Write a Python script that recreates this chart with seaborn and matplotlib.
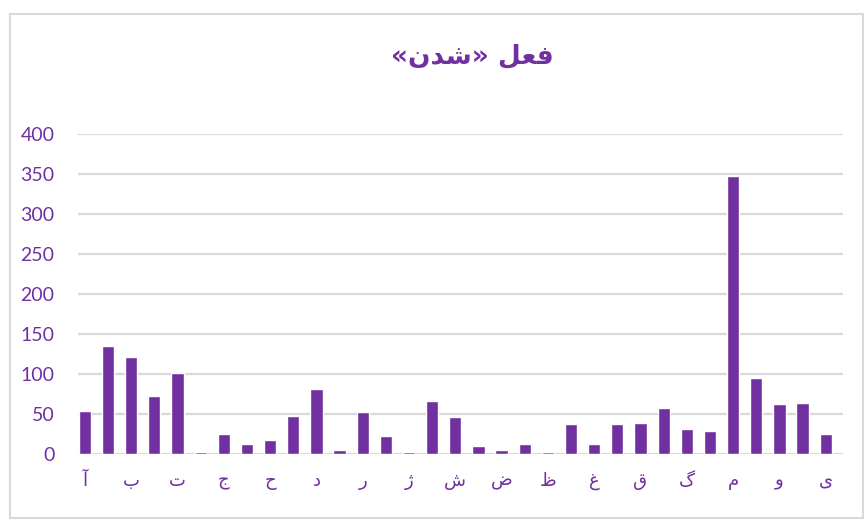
import numpy as np
import pandas as pd
import matplotlib
matplotlib.use("Agg")
import matplotlib.pyplot as plt
import seaborn as sns
from matplotlib.patches import Rectangle

# Persian alphabet, one bar per letter
letters = ["آ", "ا", "ب", "پ", "ت", "ث", "ج", "چ", "ح", "خ", "د", "ذ", "ر", "ز", "ژ",
           "س", "ش", "ص", "ض", "ط", "ظ", "ع", "غ", "ف", "ق", "ک", "گ", "ل", "م", "ن",
           "و", "ه", "ی"]
counts = [54, 135, 121, 73, 101, 2, 25, 12, 18, 48, 81, 5, 52, 23, 3,
          66, 46, 10, 5, 12, 2, 38, 12, 37, 39, 57, 31, 29, 348, 95,
          62, 64, 25]
yticks = [0, 50, 100, 150, 200, 250, 300, 350, 400]
# title in visual order with presentation forms (matplotlib has no bidi shaping)
title = "«\uFEE5\uFEAA\uFEB7» \uFEDE\uFECC\uFED3"

purple = "#7030A0"
grid_gray = "#D9D9D9"

df = pd.DataFrame({"letter": letters, "count": counts})

sns.set_style("white")
plt.rcParams['font.family'] = ['Lato', 'DejaVu Sans']

fig = plt.figure(figsize=(8.66, 5.2), dpi=100)
ax = fig.add_axes([0.090, 0.127, 0.883, 0.615])

sns.barplot(data=df, x="letter", y="count", order=letters, color=purple,
            saturation=1, width=0.53, ax=ax, zorder=3)

ax.set_ylim(0, 400)
ax.set_xlim(-0.3, len(letters) - 1 + 0.73)
ax.set_yticks(yticks)
ax.set_yticklabels([str(v) for v in yticks], color=purple, fontsize=14)
ax.yaxis.grid(True, color=grid_gray, linewidth=1.6, zorder=1)
ax.set_axisbelow(True)

xt = list(range(0, len(letters), 2))
ax.set_xticks(xt)
ax.set_xticklabels([letters[i] for i in xt], color=purple, fontsize=13,
                   family=['DejaVu Sans'])
ax.tick_params(axis='both', length=0)
ax.tick_params(axis='x', pad=13)
ax.tick_params(axis='y', pad=17)
ax.set_xlabel("")
ax.set_ylabel("")
for s in ["top", "right", "left", "bottom"]:
    ax.spines[s].set_visible(False)

fig.text(0.545, 0.892, title, ha="center", va="center", color=purple,
         fontsize=19, fontweight="bold", family=['DejaVu Sans'])

fig.patches.append(Rectangle((0.012, 0.003), 0.985, 0.97, transform=fig.transFigure,
                             fill=False, edgecolor=grid_gray, linewidth=1.5))

fig.savefig("out.png", dpi=100)
